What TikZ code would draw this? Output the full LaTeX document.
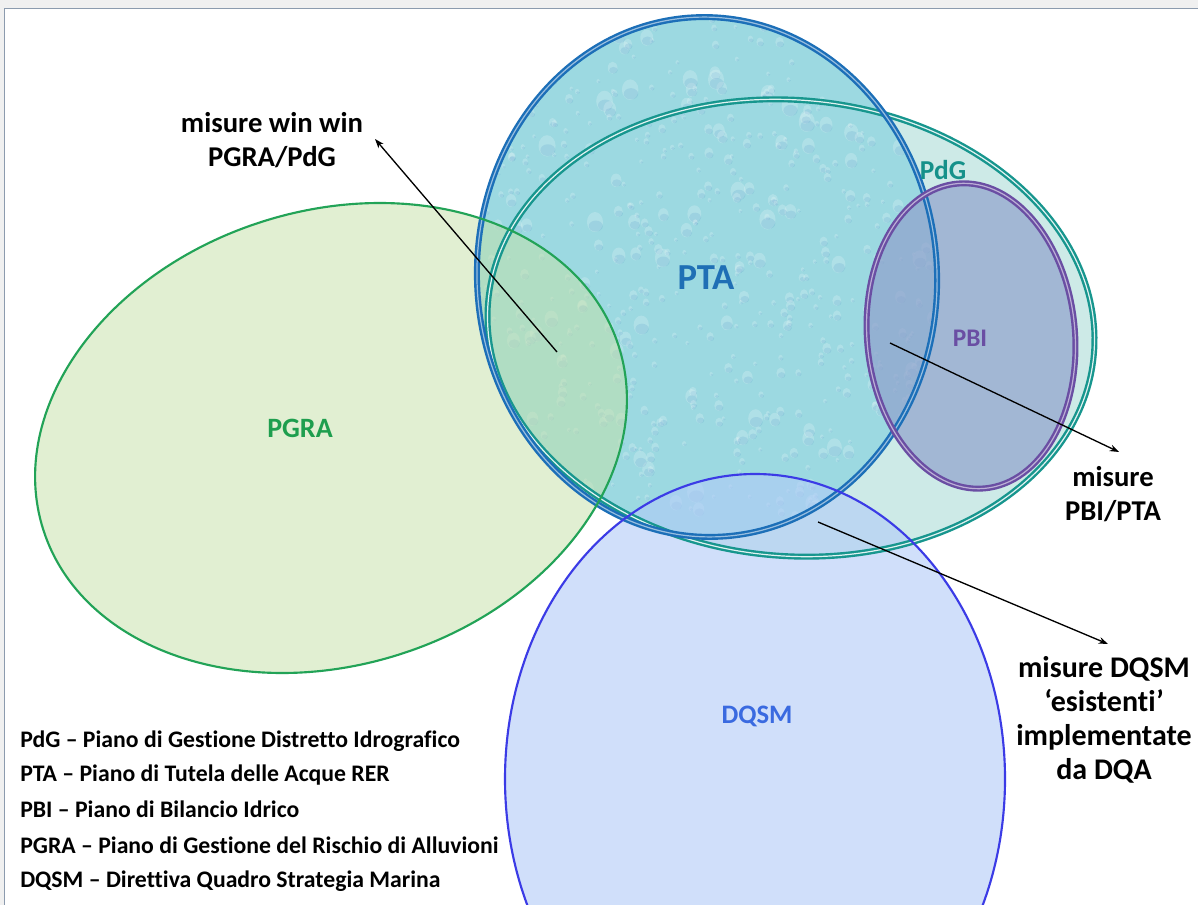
\documentclass[tikz,border=0pt]{standalone}
\usepackage{fontspec}
\setmainfont{Carlito}[Ligatures={NoCommon,NoContextual}]
\usetikzlibrary{arrows.meta}
\definecolor{framegray}{HTML}{F0F0F0}
\definecolor{frameline}{HTML}{8C9BAE}
\definecolor{pdgfill}{HTML}{CDEAE7}
\definecolor{pdgline}{HTML}{17968E}
\definecolor{pdgtext}{HTML}{15918A}
\definecolor{ptafill}{HTML}{9CD9E1}
\definecolor{ptaline}{HTML}{1C6FB8}
\definecolor{ptatext}{HTML}{1F6FB5}
\definecolor{pbifill}{HTML}{8F9FCB}
\definecolor{pbiline}{HTML}{6A4EA3}
\definecolor{dqsmfill}{HTML}{B1CBF8}
\definecolor{dqsmline}{HTML}{3B3BE6}
\definecolor{dqsmtext}{HTML}{3A6AE0}
\definecolor{pgrafill}{HTML}{C5E1A7}
\definecolor{pgraline}{HTML}{22A357}
\definecolor{pgratext}{HTML}{1E9E4E}
\tikzset{
  dblline/.style={line width=1.8, double distance=0.9, double=#1},
  lbl/.style={font=\bfseries\fontsize{21.5}{25}\selectfont, align=center, text=black, inner sep=0},
  legend/.style={font=\bfseries\fontsize{17.8}{20}\selectfont, anchor=west, inner sep=0, text=black},
  pointer/.style={black, line width=1.0, -{Stealth[length=7pt,width=5pt]}}
}
\begin{document}
\begin{tikzpicture}[x=0.75pt,y=-0.75pt]
\useasboundingbox (0,0) rectangle (1198,905);
\fill[framegray] (0,0) rectangle (1198,905);
\fill[white] (5,9) rectangle (1198,905);
\draw[frameline, line width=1.4] (4.5,905) -- (4.5,8.5) -- (1198,8.5);

% PdG
\path[fill=pdgfill, rotate around={-5:(791,328)}] (791,328) ellipse [x radius=304, y radius=228];
% PTA
\path[fill=ptafill, rotate around={3:(707,277)}] (707,277) ellipse [x radius=230, y radius=260];
% water drops texture
\begin{scope}
\clip[rotate around={3:(707,277)}] (707,277) ellipse [x radius=230, y radius=260];
\pgfmathsetseed{11}
\foreach \i in {1,...,650}{
  \pgfmathsetmacro\xx{475+rnd*465}
  \pgfmathsetmacro\yy{15+rnd*525}
  \pgfmathsetmacro\rr{2+rnd*rnd*9}
  \fill[white, opacity=0.2] (\xx,\yy) ellipse [x radius=\rr*0.8, y radius=\rr];
  \fill[ptaline, opacity=0.12] (\xx+0.8,\yy+0.4*\rr) ellipse [x radius=\rr*0.7, y radius=\rr*0.55];
}
\end{scope}
% PBI
\path[fill=pbifill, fill opacity=0.68, rotate around={5:(971,336)}] (971,336) ellipse [x radius=104, y radius=153];
% DQSM
\path[fill=dqsmfill, fill opacity=0.6] (755,779) ellipse [x radius=250, y radius=305];
% PGRA
\path[fill=pgrafill, fill opacity=0.5, rotate around={17.7:(331,438)}] (331,438) ellipse [x radius=302, y radius=227];

% outlines
\draw[pdgline, dblline=pdgfill!60!white, rotate around={-5:(791,328)}] (791,328) ellipse [x radius=304, y radius=228];
\draw[ptaline, dblline=ptaline!45!white, rotate around={3:(707,277)}] (707,277) ellipse [x radius=230, y radius=260];
\draw[pbiline, dblline=pbiline!45!white, rotate around={5:(971,336)}] (971,336) ellipse [x radius=104, y radius=153];
\draw[dqsmline, line width=1.6] (755,779) ellipse [x radius=250, y radius=305];
\draw[pgraline, line width=1.6, rotate around={17.7:(331,438)}] (331,438) ellipse [x radius=302, y radius=227];

% region labels
\node[font=\bfseries\fontsize{27.5}{30}\selectfont, text=ptatext] (pta) at (706,278) {PTA};
\node[font=\bfseries\fontsize{20.5}{22}\selectfont, text=pdgtext] (pdg) at (943,170) {PdG};
\node[font=\bfseries\fontsize{19}{22}\selectfont, text=pbiline] (pbi) at (970,338) {PBI};
\node[font=\bfseries\fontsize{21}{24}\selectfont, text=pgratext] (pgra) at (300,428) {PGRA};
\node[font=\bfseries\fontsize{20}{23}\selectfont, text=dqsmtext] (dqsm) at (757,716) {DQSM};

% annotation labels
\node[lbl] (winwin) at (272,140) {misure win win\\PGRA/PdG};
\node[lbl] (pbipta) at (1113,494) {misure\\PBI/PTA};
\node[lbl, font=\bfseries\fontsize{22.5}{25.5}\selectfont] (dqsmlbl) at (1104,720) {misure DQSM\\‘esistenti’\\implementate\\da DQA};

% pointers
\coordinate (w0) at (557,352);
\coordinate (w1) at (375,139);
\coordinate (p0) at (890,343);
\coordinate (p1) at (1119,452);
\coordinate (d0) at (818,522);
\coordinate (d1) at (1108,644);
\draw[pointer] (w0) -- (w1);
\draw[pointer] (p0) -- (p1);
\draw[pointer] (d0) -- (d1);

% legend
\node[legend] (l1) at (20,741) {PdG – Piano di Gestione Distretto Idrografico};
\node[legend] (l2) at (20,775) {PTA – Piano di Tutela delle Acque RER};
\node[legend] (l3) at (20,809) {PBI – Piano di Bilancio Idrico};
\node[legend] (l4) at (20,845) {PGRA – Piano di Gestione del Rischio di Alluvioni};
\node[legend] (l5) at (20,881) {DQSM – Direttiva Quadro Strategia Marina};
\end{tikzpicture}
\end{document}
